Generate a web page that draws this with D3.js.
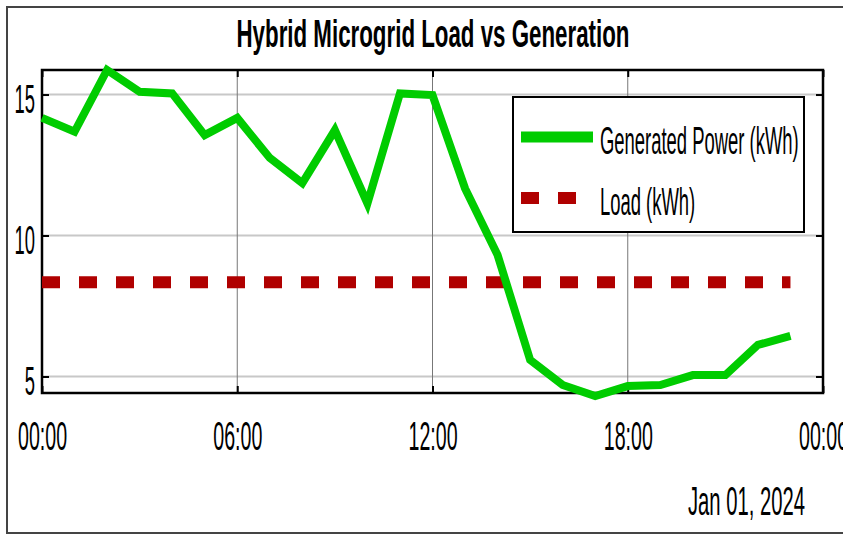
<!DOCTYPE html>
<html>
<head>
<meta charset="utf-8">
<script src="https://cdn.jsdelivr.net/npm/d3@7"></script>
<style>
  body { margin: 0; background: #fff; }
  text { font-family: "Liberation Sans", Arial, sans-serif; fill: #000; }
</style>
</head>
<body>
<svg id="chart"></svg>
<script>
// data (hourly readings, Jan 01 2024)
const hours = [0, 1, 2, 3, 4, 5, 6, 7, 8, 9, 10, 11, 12, 13, 14, 15, 16, 17, 18, 19, 20, 21, 22, 23];
const generated = [14.17, 13.68, 15.87, 15.1, 15.04, 13.56, 14.17, 12.75, 11.86, 13.74, 11.14, 15.04,
                   14.98, 11.67, 9.31, 5.59, 4.7, 4.31, 4.66, 4.7, 5.05, 5.05, 6.12, 6.44];
const load = [8.34, 8.34, 8.34, 8.34, 8.34, 8.34, 8.34, 8.34, 8.34, 8.34, 8.34, 8.34,
              8.34, 8.34, 8.34, 8.34, 8.34, 8.34, 8.34, 8.34, 8.34, 8.34, 8.34, 8.34];
const xTickHours = [0, 6, 12, 18, 24];
const yTicks = [5, 10, 15];
const seriesNames = ["Generated Power (kWh)", "Load (kWh)"];
const titleText = "Hybrid Microgrid Load vs Generation";
const dateText = "Jan 01, 2024";

const width = 843, height = 535;
const svg = d3.select("#chart").attr("width", width).attr("height", height);

// axes box
const box = { left: 42, right: 823, top: 70, bottom: 393 };
const day = h => new Date(2024, 0, 1, h);

const x = d3.scaleTime().domain([day(0), day(24)]).range([box.left, box.right]);
const y = d3.scaleLinear().domain([4.415, 15.87]).range([box.bottom, box.top]);

// squeeze text horizontally (narrow looking font)
function squeeze(sel, k) {
  sel.each(function() {
    const w = this.getComputedTextLength();
    d3.select(this).attr("textLength", w * k).attr("lengthAdjust", "spacingAndGlyphs");
  });
}

// outer figure frame
svg.append("rect")
  .attr("x", 7).attr("y", 7)
  .attr("width", 900).attr("height", 526)
  .attr("fill", "none")
  .attr("stroke", "#444")
  .attr("stroke-width", 2);

// title
svg.append("text")
  .attr("x", 433).attr("y", 47)
  .attr("text-anchor", "middle")
  .attr("font-size", "38px")
  .attr("font-weight", "bold")
  .text(titleText)
  .attr("textLength", 393).attr("lengthAdjust", "spacingAndGlyphs");

// grid
svg.append("g")
  .selectAll("line")
  .data(yTicks)
  .join("line")
  .attr("x1", box.left).attr("x2", box.right)
  .attr("y1", d => y(d)).attr("y2", d => y(d))
  .attr("stroke", "#c8c8c8")
  .attr("stroke-width", 2);

svg.append("g")
  .selectAll("line")
  .data(xTickHours.slice(1, -1))
  .join("line")
  .attr("x1", d => x(day(d))).attr("x2", d => x(day(d)))
  .attr("y1", box.top).attr("y2", box.bottom)
  .attr("stroke", "#777")
  .attr("stroke-width", 1);

// axes with inward ticks
const xAxis = svg.append("g")
  .attr("transform", `translate(0,${box.bottom})`)
  .call(d3.axisBottom(x)
    .tickValues(xTickHours.map(day))
    .tickFormat(d3.timeFormat("%H:%M"))
    .tickSize(-7)
    .tickPadding(0));
xAxis.select(".domain").remove();
xAxis.selectAll("line").attr("stroke", "#000").attr("stroke-width", 2);
xAxis.selectAll("text")
  .attr("y", 57).attr("dy", null)
  .attr("font-size", "40px")
  .attr("font-family", "'Liberation Sans', Arial, sans-serif")
  .call(squeeze, 0.49);

const xTop = svg.append("g")
  .attr("transform", `translate(0,${box.top})`)
  .call(d3.axisTop(x).tickValues(xTickHours.map(day)).tickFormat("").tickSize(-7));
xTop.select(".domain").remove();
xTop.selectAll("line").attr("stroke", "#000").attr("stroke-width", 2);

const yAxis = svg.append("g")
  .attr("transform", `translate(${box.left},0)`)
  .call(d3.axisLeft(y).tickValues(yTicks).tickSize(-7).tickPadding(7));
yAxis.select(".domain").remove();
yAxis.selectAll("line").attr("stroke", "#000").attr("stroke-width", 2);
yAxis.selectAll("text")
  .attr("dy", 18)
  .attr("font-size", "40px")
  .attr("font-family", "'Liberation Sans', Arial, sans-serif")
  .call(squeeze, 0.46);

const yRight = svg.append("g")
  .attr("transform", `translate(${box.right},0)`)
  .call(d3.axisRight(y).tickValues(yTicks).tickFormat("").tickSize(-7));
yRight.select(".domain").remove();
yRight.selectAll("line").attr("stroke", "#000").attr("stroke-width", 2);

// box
svg.append("rect")
  .attr("x", box.left).attr("y", box.top)
  .attr("width", box.right - box.left).attr("height", box.bottom - box.top)
  .attr("fill", "none")
  .attr("stroke", "#000")
  .attr("stroke-width", 2.5);

// date label
svg.append("text")
  .attr("x", 805).attr("y", 515)
  .attr("text-anchor", "end")
  .attr("font-size", "40px")
  .text(dateText)
  .attr("textLength", 117).attr("lengthAdjust", "spacingAndGlyphs");

// series
const line = d3.line().x(d => x(day(d[0]))).y(d => y(d[1]));

svg.append("path")
  .datum(hours.map((h, i) => [h, load[i]]))
  .attr("d", line)
  .attr("fill", "none")
  .attr("stroke", "#b00000")
  .attr("stroke-width", 12)
  .attr("stroke-dasharray", "18 19");

svg.append("path")
  .datum(hours.map((h, i) => [h, generated[i]]))
  .attr("d", line)
  .attr("fill", "none")
  .attr("stroke", "#00cc00")
  .attr("stroke-width", 8)
  .attr("stroke-linejoin", "miter");

// legend
const legend = svg.append("g");
legend.append("rect")
  .attr("x", 513).attr("y", 97)
  .attr("width", 291).attr("height", 135)
  .attr("fill", "#fff")
  .attr("stroke", "#000")
  .attr("stroke-width", 2);

legend.append("line")
  .attr("x1", 521).attr("x2", 593)
  .attr("y1", 137).attr("y2", 137)
  .attr("stroke", "#00cc00")
  .attr("stroke-width", 11);

legend.append("line")
  .attr("x1", 521).attr("x2", 576)
  .attr("y1", 198).attr("y2", 198)
  .attr("stroke", "#b00000")
  .attr("stroke-width", 12)
  .attr("stroke-dasharray", "18 19");

legend.selectAll("text.lbl")
  .data(seriesNames)
  .join("text")
  .attr("class", "lbl")
  .attr("x", 600)
  .attr("y", (d, i) => 154 + i * 61)
  .attr("font-size", "38px")
  .text(d => d)
  .call(squeeze, 0.485);
</script>
</body>
</html>
